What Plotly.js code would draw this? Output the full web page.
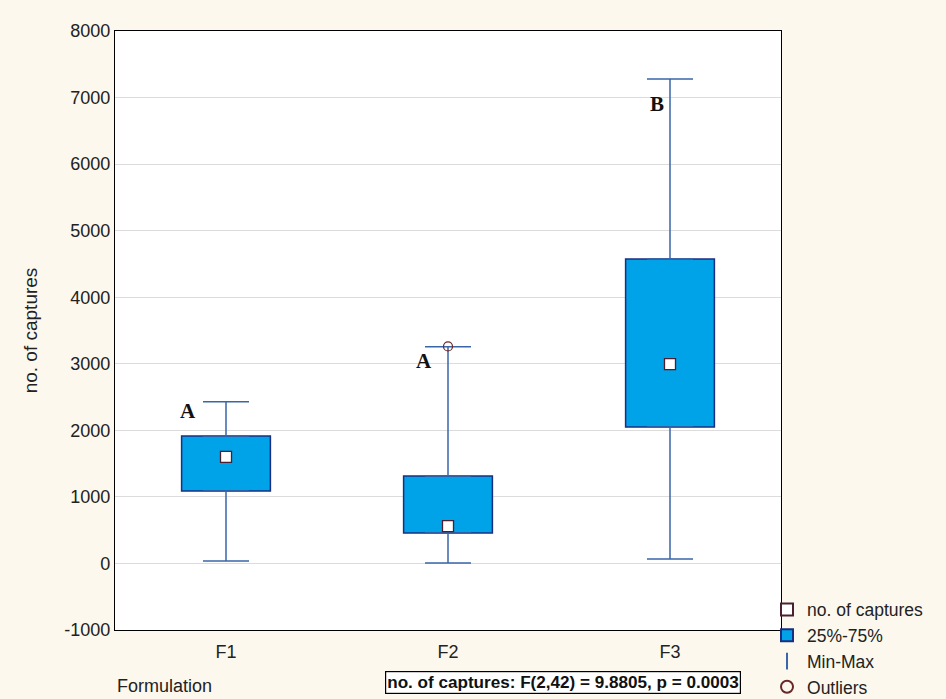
<!DOCTYPE html>
<html>
<head>
<meta charset="utf-8">
<script src="https://cdn.plot.ly/plotly-3.0.1.min.js"></script>
<style>html,body{margin:0;padding:0;background:#FCF8EE;}</style>
</head>
<body>
<div id="chart" style="width:946px;height:699px;"></div>
<script>
// ---- data ----
const categories = ['F1', 'F2', 'F3'];
const minVals    = [36, 6, 66];
const q1Vals     = [1088, 457, 2049];
const medianVals = [1600, 562, 2996];
const q3Vals     = [1915, 1315, 4573];
const maxVals    = [2430, 3255, 7280];
const outlierCats = ['F2'];
const outlierVals = [3260];
const sigLetters  = ['A', 'A', 'B'];
const statText = 'no. of captures: F(2,42) = 9.8805, p = 0.0003';
const yTickVals = [-1000, 0, 1000, 2000, 3000, 4000, 5000, 6000, 7000, 8000];
const yTickText = ['-1000', '0', '1000', '2000', '3000', '4000', '5000', '6000', '7000', '8000'];

// label placement (offsets in category units / data units)
const letterXOffset = [-0.17, -0.11, -0.06];
const letterY = [2290, 3043, 6904];

const boxFill = '#00A2E8';
const boxEdge = '#1B2F80';
const whisk = '#3866A8';
const markEdge = '#4A2030';

const medTrace = {
  type: 'scatter', mode: 'markers', name: 'no. of captures',
  x: categories, y: medianVals,
  marker: {symbol: 'square', size: 11, color: '#FFFFFF', line: {color: markEdge, width: 1.3}},
  legendrank: 1, hoverinfo: 'x+y'
};

const boxTrace = {
  type: 'bar', name: '25%-75%',
  x: categories, base: q1Vals,
  y: q3Vals.map((v, i) => v - q1Vals[i]),
  width: 0.4,
  marker: {color: boxFill, line: {color: boxEdge, width: 1.5}},
  legendrank: 2, hoverinfo: 'skip'
};

const wX = categories.concat(categories);
const wY = q3Vals.concat(q1Vals);
const wPlus = maxVals.map((v, i) => v - q3Vals[i]).concat([0, 0, 0]);
const wMinus = [0, 0, 0].concat(q1Vals.map((v, i) => v - minVals[i]));
const whiskTrace = {
  type: 'scatter', mode: 'markers', name: 'Min-Max',
  x: wX, y: wY,
  marker: {symbol: 'line-ns-open', size: 1, color: whisk, line: {color: whisk, width: 1.5}},
  error_y: {type: 'data', symmetric: false, array: wPlus, arrayminus: wMinus,
            color: whisk, thickness: 1.5, width: 23},
  legendrank: 3, hoverinfo: 'skip'
};

const outTrace = {
  type: 'scatter', mode: 'markers', name: 'Outliers',
  x: outlierCats, y: outlierVals,
  marker: {symbol: 'circle-open', size: 9, color: '#6A2828', line: {width: 1.2}},
  legendrank: 4
};

const annotations = categories.map((c, i) => ({
  x: i + letterXOffset[i], y: letterY[i], xref: 'x', yref: 'y',
  text: '<b>' + sigLetters[i] + '</b>', showarrow: false,
  font: {family: 'Liberation Serif, Times New Roman, serif', size: 21, color: '#111'}
}));
annotations.push({
  xref: 'paper', yref: 'paper', x: 0, y: -0.0935, xanchor: 'left', yanchor: 'middle',
  text: 'Formulation', showarrow: false,
  font: {family: 'Liberation Sans, Arial, sans-serif', size: 18, color: '#222'}
});
annotations.push({
  xref: 'paper', yref: 'paper', x: 0.6727, y: -0.0876, xanchor: 'center', yanchor: 'middle',
  text: '<b>' + statText + '</b>', showarrow: false,
  bgcolor: '#FFFFFF', bordercolor: '#000', borderwidth: 1.2, borderpad: 1,
  font: {family: 'Liberation Sans, Arial, sans-serif', size: 17.1, color: '#111'}
});

const layout = {
  width: 946, height: 699,
  paper_bgcolor: '#FCF8EE', plot_bgcolor: '#FFFFFF',
  margin: {l: 115, r: 165, t: 31, b: 69, autoexpand: false},
  font: {family: 'Liberation Sans, Arial, sans-serif', size: 18, color: '#222'},
  showlegend: true,
  barmode: 'overlay',
  xaxis: {
    type: 'category', range: [-0.5, 2.5],
    showline: true, linecolor: '#000', linewidth: 1.2, mirror: true,
    showgrid: false, ticks: '', zeroline: false, ticklabelstandoff: 5,
    tickfont: {size: 18}
  },
  yaxis: {
    range: [-1000, 8000], tickvals: yTickVals, ticktext: yTickText,
    showline: true, linecolor: '#000', linewidth: 1.2, mirror: true,
    showgrid: true, gridcolor: '#DCDCDC', gridwidth: 1,
    zeroline: false, ticks: '',
    tickfont: {size: 18},
    title: {text: 'no. of captures', font: {size: 19}, standoff: 21}
  },
  legend: {
    x: 0.979, y: 0.064, xanchor: 'left', yanchor: 'top',
    bgcolor: 'rgba(0,0,0,0)', font: {size: 17.5, color: '#222'},
    itemsizing: 'constant', itemwidth: 30, tracegroupgap: 0,
    traceorder: 'normal'
  },
  annotations: annotations
};

Plotly.newPlot('chart', [boxTrace, whiskTrace, medTrace, outTrace], layout, {displayModeBar: false, staticPlot: true});
</script>
</body>
</html>
